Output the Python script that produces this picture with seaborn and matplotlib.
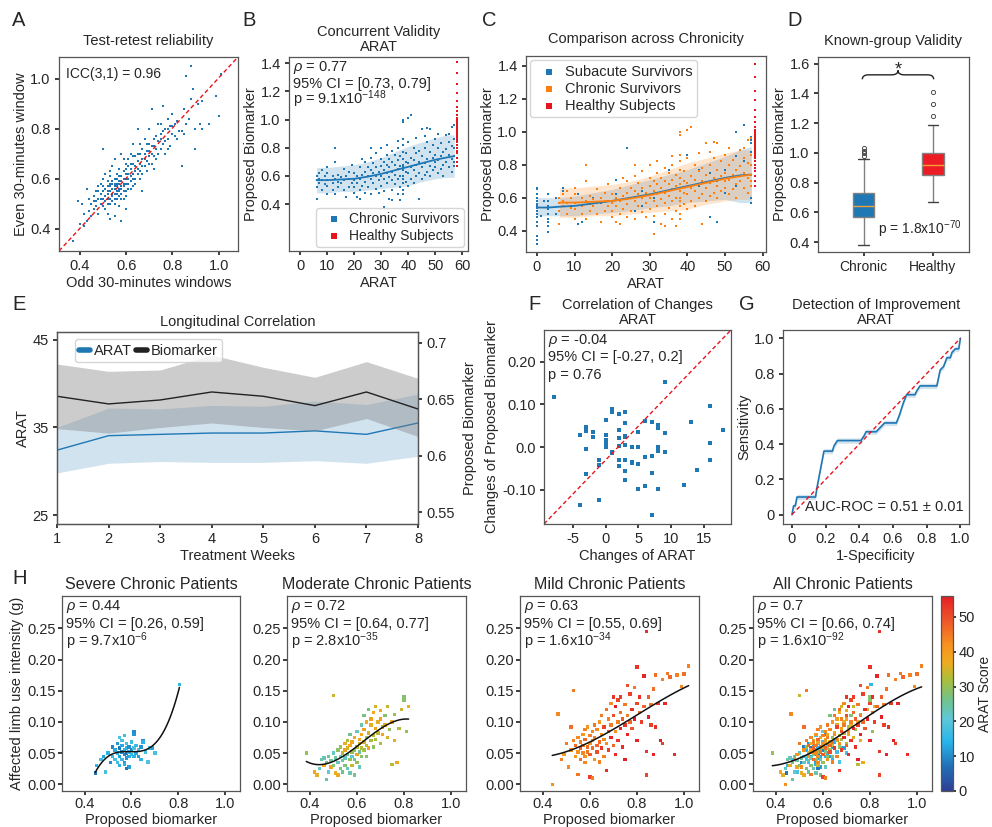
import matplotlib
matplotlib.use("Agg")
import matplotlib.pyplot as plt
import numpy as np
import pandas as pd
import seaborn as sns
from matplotlib.cm import ScalarMappable
from matplotlib.colors import LinearSegmentedColormap, Normalize
from matplotlib.lines import Line2D
from matplotlib.patches import PathPatch
from matplotlib.path import Path

sns.set_theme(style="ticks")
plt.rcParams["font.family"] = ["Liberation Sans", "DejaVu Sans"]
plt.rcParams.update({
    "axes.unicode_minus": False,
    "mathtext.fontset": "custom",
    "mathtext.rm": "Liberation Sans",
    "mathtext.it": "Liberation Sans:italic",
    "mathtext.bf": "Liberation Sans:bold",
    "font.size": 10.5, "axes.titlesize": 10.5, "axes.labelsize": 10.5,
    "xtick.labelsize": 10.5, "ytick.labelsize": 10.5,
    "axes.edgecolor": "#555555", "axes.linewidth": 0.9,
    "xtick.major.size": 3, "ytick.major.size": 3,
    "xtick.major.pad": 3, "ytick.major.pad": 3,
    "axes.labelpad": 2,
})
blue, orange, red, box_red = "#1f77b4", "#ff7f0e", "#e8141c", "#ed1c24"

# ---------------- data ----------------
# A: test-retest (odd window, even window)
retest_pts = [
    (0.37, 0.35), (0.39, 0.51), (0.40, 0.42), (0.41, 0.50), (0.42, 0.46), (0.43, 0.43), (0.43, 0.56), (0.44, 0.47),
    (0.45, 0.50), (0.45, 0.45), (0.46, 0.53), (0.46, 0.48), (0.47, 0.51), (0.47, 0.55), (0.48, 0.46), (0.48, 0.52),
    (0.48, 0.57), (0.49, 0.50), (0.49, 0.54), (0.49, 0.58), (0.50, 0.52), (0.50, 0.55), (0.50, 0.60), (0.50, 0.72),
    (0.51, 0.48), (0.51, 0.53), (0.51, 0.56), (0.51, 0.62), (0.52, 0.50), (0.52, 0.54), (0.52, 0.57), (0.52, 0.59),
    (0.52, 0.46), (0.53, 0.52), (0.53, 0.55), (0.53, 0.58), (0.53, 0.61), (0.53, 0.44), (0.54, 0.53), (0.54, 0.56),
    (0.54, 0.59), (0.54, 0.65), (0.55, 0.50), (0.55, 0.54), (0.55, 0.57), (0.55, 0.60), (0.55, 0.68), (0.56, 0.52),
    (0.56, 0.55), (0.56, 0.58), (0.56, 0.62), (0.57, 0.49), (0.57, 0.56), (0.57, 0.59), (0.57, 0.64), (0.58, 0.54),
    (0.58, 0.57), (0.58, 0.61), (0.58, 0.70), (0.59, 0.52), (0.59, 0.58), (0.59, 0.63), (0.60, 0.55), (0.60, 0.60),
    (0.60, 0.66), (0.60, 0.48), (0.61, 0.58), (0.61, 0.62), (0.61, 0.68), (0.62, 0.56), (0.62, 0.64), (0.62, 0.70),
    (0.63, 0.60), (0.63, 0.66), (0.63, 0.74), (0.64, 0.58), (0.64, 0.63), (0.64, 0.69), (0.65, 0.62), (0.65, 0.67),
    (0.65, 0.80), (0.66, 0.60), (0.66, 0.70), (0.67, 0.65), (0.67, 0.72), (0.67, 0.55), (0.68, 0.68), (0.68, 0.76),
    (0.69, 0.63), (0.69, 0.71), (0.70, 0.66), (0.70, 0.74), (0.70, 0.80), (0.71, 0.70), (0.71, 0.88), (0.72, 0.64),
    (0.72, 0.73), (0.73, 0.77), (0.73, 0.68), (0.74, 0.82), (0.75, 0.72), (0.75, 0.78), (0.76, 0.74), (0.76, 0.89),
    (0.77, 0.70), (0.77, 0.80), (0.78, 0.76), (0.78, 0.84), (0.79, 0.73), (0.80, 0.81), (0.80, 0.86), (0.81, 0.77),
    (0.82, 0.83), (0.83, 0.79), (0.84, 0.65), (0.85, 0.78), (0.85, 0.88), (0.86, 1.01), (0.87, 0.84), (0.88, 1.05),
    (0.88, 0.92), (0.89, 0.96), (0.90, 0.80), (0.91, 0.90), (0.92, 0.82), (0.93, 0.80), (0.93, 0.91), (0.96, 0.82),
    (0.99, 0.93), (1.00, 0.85), (1.01, 1.02), (0.90, 0.72), (0.84, 0.79), (0.58, 0.43), (0.55, 0.45),
    (0.50, 0.57), (0.51, 0.51), (0.52, 0.55), (0.53, 0.57), (0.53, 0.50), (0.54, 0.58), (0.54, 0.51), (0.55, 0.56),
    (0.55, 0.52), (0.56, 0.57), (0.56, 0.54), (0.56, 0.60), (0.57, 0.53), (0.57, 0.58), (0.57, 0.61), (0.58, 0.56),
    (0.58, 0.59), (0.58, 0.52), (0.59, 0.55), (0.59, 0.60), (0.59, 0.57), (0.60, 0.58), (0.60, 0.62), (0.60, 0.53),
    (0.61, 0.60), (0.61, 0.56), (0.61, 0.65), (0.62, 0.61), (0.62, 0.59), (0.62, 0.66), (0.63, 0.62), (0.63, 0.57),
    (0.64, 0.65), (0.64, 0.60), (0.65, 0.64), (0.65, 0.70), (0.66, 0.66), (0.66, 0.63), (0.67, 0.68), (0.67, 0.62),
    (0.68, 0.70), (0.68, 0.65), (0.69, 0.74), (0.69, 0.67), (0.70, 0.71), (0.70, 0.69), (0.71, 0.73), (0.71, 0.66),
    (0.72, 0.76), (0.72, 0.69), (0.73, 0.72), (0.74, 0.75), (0.74, 0.70), (0.75, 0.76), (0.76, 0.79), (0.77, 0.75),
    (0.78, 0.80), (0.79, 0.81), (0.80, 0.78), (0.81, 0.82), (0.48, 0.55), (0.47, 0.49), (0.46, 0.51), (0.49, 0.52),
    (0.52, 0.52), (0.54, 0.54), (0.55, 0.58), (0.57, 0.55), (0.50, 0.49), (0.44, 0.52), (0.42, 0.41), (0.59, 0.68),
    (0.63, 0.69), (0.66, 0.74), (0.75, 0.82), (0.78, 0.72), (0.82, 0.76), (0.86, 0.82), (0.60, 0.64), (0.53, 0.63),
]

# B/C: biomarker per ARAT score
chronic_by_arat = {
    6: [0.44, 0.57, 0.60, 0.52], 7: [0.58, 0.62, 0.55], 8: [0.50, 0.57, 0.64], 9: [0.54, 0.60],
    10: [0.47, 0.57, 0.62, 0.66, 0.53], 12: [0.55, 0.60, 0.50], 13: [0.80, 0.70, 0.58, 0.47],
    14: [0.56, 0.61, 0.52], 15: [0.55, 0.59], 16: [0.65, 0.50, 0.57], 17: [0.60, 0.45],
    18: [0.52, 0.58, 0.63], 19: [0.55, 0.68], 20: [0.48, 0.57, 0.62, 0.52], 21: [0.60, 0.55, 0.45],
    22: [0.50, 0.58, 0.66, 0.44], 23: [0.53, 0.61, 0.72], 24: [0.48, 0.56, 0.63, 0.70],
    25: [0.52, 0.60, 0.66], 26: [0.47, 0.58, 0.73, 0.80, 0.64], 27: [0.55, 0.62, 0.69],
    28: [0.51, 0.60, 0.76, 0.66], 29: [0.57, 0.63, 0.48], 30: [0.53, 0.60, 0.67, 0.80, 0.72],
    31: [0.49, 0.58, 0.64, 0.70, 0.38], 32: [0.55, 0.62, 0.68, 0.75, 0.82], 33: [0.44, 0.59, 0.66, 0.72],
    34: [0.50, 0.57, 0.63, 0.70, 0.78, 0.43], 35: [0.54, 0.61, 0.68, 0.75],
    36: [0.47, 0.58, 0.65, 0.71, 0.80, 0.85], 37: [0.52, 0.60, 0.67, 0.74, 0.43],
    38: [0.47, 0.50, 0.55, 0.60, 0.64, 0.68, 0.72, 0.77, 0.82, 0.86, 0.98, 1.00, 0.58, 0.66],
    39: [0.56, 0.63, 0.70, 0.76], 40: [0.53, 0.62, 0.69, 0.84, 1.01], 41: [0.58, 0.66, 0.73, 1.03],
    42: [0.55, 0.64, 0.71, 0.80], 43: [0.60, 0.68, 0.76, 0.87], 44: [0.44, 0.62, 0.70, 0.78],
    45: [0.58, 0.66, 0.74, 0.93], 46: [0.61, 0.69, 0.80, 0.88], 47: [0.63, 0.72, 0.84, 0.94],
    48: [0.60, 0.67, 0.77, 0.93], 49: [0.64, 0.73, 0.82], 50: [0.66, 0.75, 0.86, 0.70],
    51: [0.62, 0.71, 0.80, 0.90], 52: [0.65, 0.74, 0.83], 53: [0.68, 0.77, 0.60],
    54: [0.70, 0.79, 0.89], 55: [0.66, 0.75, 0.84, 0.90], 56: [0.63, 0.72, 0.81, 0.95],
    57: [0.67, 0.74, 0.80, 0.86, 0.96, 0.70],
}
subacute_by_arat = {
    0: [0.32, 0.34, 0.37, 0.43, 0.45, 0.48, 0.50, 0.52, 0.54, 0.55, 0.56, 0.58, 0.60, 0.62, 0.65, 0.66],
    1: [0.49], 2: [0.58], 3: [0.39, 0.43, 0.45, 0.47, 0.50, 0.53, 0.55, 0.58, 0.62], 5: [0.50, 0.60],
    7: [0.66, 0.64], 9: [0.55], 11: [0.44, 0.62], 12: [0.45], 15: [0.60], 17: [0.57], 19: [0.58],
    21: [0.71, 0.62], 24: [0.90, 0.63], 26: [0.52], 28: [0.55, 0.64], 31: [0.45, 0.60], 33: [0.66],
    35: [0.68, 0.77], 40: [0.86, 0.62], 43: [0.67, 0.77], 46: [0.48, 0.61, 0.75], 48: [0.45, 0.70],
    50: [0.77, 0.63], 53: [1.00, 0.85, 0.67], 55: [1.04, 0.82],
    57: [0.57, 0.60, 0.80, 0.88, 0.93, 0.95, 0.97],
}
healthy_arat = 58
healthy_bio = [0.67, 0.70, 0.73, 0.76, 0.78, 0.80, 0.82, 0.84, 0.85, 0.85, 0.86, 0.87, 0.88, 0.88, 0.89,
               0.90, 0.90, 0.91, 0.92, 0.92, 0.93, 0.94, 0.95, 0.96, 0.97, 0.98, 0.99, 1.00, 1.01, 1.03,
               1.06, 1.09, 1.13, 1.19, 1.25, 1.33, 1.41]

# smoothed trends with +/- 1 SD bands
chronic_fit_x = [6, 10, 15, 20, 25, 30, 35, 40, 45, 50, 54, 57]
chronic_fit_mean = [0.57, 0.57, 0.575, 0.58, 0.595, 0.615, 0.64, 0.665, 0.69, 0.715, 0.73, 0.74]
chronic_fit_low = [0.48, 0.48, 0.49, 0.49, 0.50, 0.51, 0.52, 0.53, 0.56, 0.58, 0.59, 0.59]
chronic_fit_high = [0.66, 0.66, 0.67, 0.68, 0.70, 0.73, 0.77, 0.81, 0.84, 0.87, 0.89, 0.89]
subacute_fit_x = [0, 3, 6, 10, 15, 20, 25, 30, 35, 40, 45, 50, 54, 57]
subacute_fit_mean = [0.54, 0.54, 0.545, 0.55, 0.565, 0.58, 0.60, 0.62, 0.645, 0.67, 0.695, 0.72, 0.735, 0.74]
subacute_fit_low = [0.49, 0.49, 0.49, 0.49, 0.50, 0.51, 0.52, 0.54, 0.55, 0.57, 0.58, 0.59, 0.57, 0.57]
subacute_fit_high = [0.60, 0.60, 0.60, 0.61, 0.63, 0.65, 0.68, 0.71, 0.74, 0.77, 0.81, 0.85, 0.89, 0.91]

# E: longitudinal means and bands
weeks = [1, 2, 3, 4, 5, 6, 7, 8]
arat_mean = [32.4, 34.05, 34.2, 34.35, 34.35, 34.6, 34.2, 35.5]
arat_low = [29.8, 30.9, 31.1, 31.0, 31.0, 31.2, 30.9, 31.7]
arat_high = [35.0, 37.2, 37.1, 37.5, 37.4, 38.0, 37.6, 38.8]
bio_mean = [0.6527, 0.6459, 0.6494, 0.6565, 0.6527, 0.6444, 0.6565, 0.6414]
bio_low = [0.624, 0.620, 0.625, 0.629, 0.625, 0.622, 0.633, 0.617]
bio_high = [0.6813, 0.6748, 0.6760, 0.6893, 0.6784, 0.6695, 0.6834, 0.6686]

# F: changes (ARAT change, biomarker change)
change_pts = [
    (-8, 0.118), (-4, 0.029), (-4, -0.135), (-3, 0.047), (-3, 0.037), (-3, -0.005), (-3, -0.062), (-2, 0.036),
    (-2, 0.024), (-1, -0.030), (-1, -0.042), (-1, -0.123), (0, 0.064), (0, 0.029), (0, 0.016), (0, 0.010),
    (0, 0.003), (0, 0.000), (1, 0.090), (1, 0.083), (1, -0.012), (1, -0.015), (2, 0.077), (2, 0.040),
    (2, 0.022), (2, 0.002), (2, -0.030), (2, -0.045), (3, 0.083), (3, 0.056), (3, 0.027), (3, 0.024),
    (3, 0.005), (3, -0.030), (3, -0.057), (3, -0.078), (4, 0.000), (4, -0.034), (4, -0.037), (5, 0.036),
    (5, 0.001), (5, -0.040), (5, -0.097), (6, 0.062), (6, -0.024), (6, -0.092), (7, 0.058), (7, -0.020),
    (7, -0.060), (7, -0.158), (8, 0.052), (8, 0.045), (8, 0.000), (8, -0.009), (8, -0.098), (9, 0.152),
    (9, 0.032), (9, -0.012), (12, -0.089), (13, 0.059), (14, -0.054), (16, 0.097), (16, 0.010),
    (16, -0.030), (18, 0.039),
]

# G: ROC curve
roc_fpr = [0, 0.01, 0.02, 0.03, 0.14, 0.15, 0.16, 0.17, 0.18, 0.19, 0.24, 0.25, 0.27, 0.41, 0.43, 0.44,
           0.50, 0.52, 0.55, 0.62, 0.64, 0.66, 0.68, 0.73, 0.74, 0.76, 0.86, 0.88, 0.90, 0.92, 0.94, 0.95,
           0.97, 0.99, 1.0]
roc_tpr = [0, 0.05, 0.05, 0.10, 0.10, 0.16, 0.21, 0.26, 0.31, 0.36, 0.36, 0.39, 0.42, 0.42, 0.45, 0.47,
           0.47, 0.49, 0.52, 0.52, 0.57, 0.63, 0.68, 0.68, 0.70, 0.73, 0.73, 0.82, 0.84, 0.89, 0.89, 0.92,
           0.94, 0.94, 1.0]
roc_sd = 0.015

# H: (biomarker, limb use intensity, ARAT)
severe_pts = [
    (0.445, 0.018, 8), (0.45, 0.030, 15), (0.47, 0.040, 17), (0.48, 0.045, 12), (0.49, 0.020, 18), (0.50, 0.050, 14),
    (0.51, 0.035, 10), (0.52, 0.060, 9), (0.52, 0.045, 16), (0.53, 0.055, 13), (0.53, 0.040, 18), (0.54, 0.065, 11),
    (0.54, 0.050, 15), (0.54, 0.035, 17), (0.55, 0.058, 8), (0.55, 0.045, 12), (0.55, 0.075, 18), (0.55, 0.030, 14),
    (0.56, 0.052, 10), (0.56, 0.040, 16), (0.56, 0.062, 13), (0.56, 0.070, 19), (0.57, 0.048, 9), (0.57, 0.055, 15),
    (0.57, 0.035, 12), (0.57, 0.078, 17), (0.58, 0.042, 11), (0.58, 0.058, 14), (0.58, 0.065, 18), (0.58, 0.050, 7),
    (0.59, 0.045, 13), (0.59, 0.052, 16), (0.59, 0.060, 10), (0.59, 0.028, 12), (0.60, 0.048, 15), (0.60, 0.055, 9),
    (0.60, 0.068, 17), (0.61, 0.080, 11), (0.61, 0.045, 14), (0.61, 0.058, 18), (0.61, 0.085, 10), (0.62, 0.050, 13),
    (0.62, 0.062, 16), (0.63, 0.045, 12), (0.63, 0.055, 19), (0.64, 0.040, 15), (0.64, 0.060, 11), (0.65, 0.070, 9),
    (0.65, 0.068, 14), (0.66, 0.052, 17), (0.68, 0.058, 16), (0.69, 0.058, 12), (0.70, 0.050, 18), (0.67, 0.036, 19),
    (0.58, 0.025, 8), (0.57, 0.032, 14), (0.805, 0.160, 15),
]
moderate_pts = [
    (0.385, 0.050, 30), (0.42, 0.020, 38), (0.43, 0.015, 36), (0.44, 0.025, 22), (0.45, 0.040, 24), (0.46, 0.030, 37),
    (0.46, 0.042, 23), (0.47, 0.008, 25), (0.47, 0.035, 27), (0.48, 0.020, 21), (0.48, 0.045, 26), (0.49, 0.028, 38),
    (0.49, 0.038, 24), (0.50, 0.142, 34), (0.50, 0.050, 22), (0.50, 0.030, 28), (0.51, 0.018, 36), (0.51, 0.042, 25),
    (0.52, 0.035, 23), (0.52, 0.055, 29), (0.52, 0.015, 37), (0.53, 0.045, 21), (0.53, 0.025, 27), (0.53, 0.060, 31),
    (0.54, 0.038, 24), (0.54, 0.050, 33), (0.54, 0.020, 26), (0.55, 0.042, 22), (0.55, 0.065, 36), (0.55, 0.030, 28),
    (0.55, 0.055, 39), (0.56, 0.048, 25), (0.56, 0.070, 32), (0.56, 0.025, 23), (0.56, 0.058, 35), (0.57, 0.040, 30),
    (0.57, 0.062, 37), (0.57, 0.018, 24), (0.57, 0.080, 26), (0.58, 0.052, 31), (0.58, 0.045, 21), (0.58, 0.068, 38),
    (0.58, 0.030, 34), (0.59, 0.055, 28), (0.59, 0.075, 36), (0.59, 0.040, 25), (0.59, 0.015, 27), (0.60, 0.060, 32),
    (0.60, 0.048, 39), (0.60, 0.085, 22), (0.60, 0.035, 30), (0.61, 0.065, 35), (0.61, 0.052, 26), (0.61, 0.072, 37),
    (0.61, 0.028, 23), (0.62, 0.058, 33), (0.62, 0.080, 38), (0.62, 0.045, 29), (0.62, 0.095, 24), (0.63, 0.068, 36),
    (0.63, 0.055, 31), (0.63, 0.088, 39), (0.63, 0.110, 27), (0.64, 0.062, 34), (0.64, 0.075, 30), (0.64, 0.100, 37),
    (0.64, 0.045, 28), (0.65, 0.082, 35), (0.65, 0.120, 26), (0.65, 0.058, 38), (0.66, 0.070, 32), (0.66, 0.095, 36),
    (0.66, 0.105, 39), (0.67, 0.078, 33), (0.67, 0.115, 37), (0.67, 0.060, 29), (0.68, 0.090, 38), (0.68, 0.125, 35),
    (0.68, 0.072, 31), (0.69, 0.100, 36), (0.69, 0.082, 34), (0.70, 0.105, 39), (0.70, 0.065, 32), (0.70, 0.118, 37),
    (0.71, 0.092, 33), (0.71, 0.080, 38), (0.72, 0.110, 28), (0.72, 0.095, 36), (0.73, 0.075, 35), (0.73, 0.125, 34),
    (0.74, 0.088, 30), (0.75, 0.032, 33), (0.75, 0.100, 37), (0.76, 0.070, 36), (0.76, 0.112, 31), (0.77, 0.035, 38),
    (0.78, 0.090, 32), (0.79, 0.120, 34), (0.80, 0.135, 29), (0.81, 0.085, 30), (0.82, 0.125, 37), (0.80, 0.140, 28),
]
mild_pts = [
    (0.44, 0.000, 42), (0.465, 0.113, 43), (0.48, 0.040, 44), (0.49, 0.048, 41), (0.50, 0.065, 45), (0.51, 0.028, 43),
    (0.52, 0.092, 46), (0.52, 0.055, 42), (0.53, 0.070, 44), (0.53, 0.150, 45), (0.54, 0.045, 41), (0.54, 0.062, 47),
    (0.55, 0.075, 43), (0.55, 0.016, 45), (0.55, 0.052, 42), (0.56, 0.058, 48), (0.56, 0.068, 44), (0.56, 0.040, 46),
    (0.57, 0.080, 41), (0.57, 0.050, 43), (0.57, 0.062, 45), (0.58, 0.088, 44), (0.58, 0.045, 42), (0.58, 0.072, 47),
    (0.58, 0.035, 43), (0.59, 0.060, 46), (0.59, 0.092, 41), (0.59, 0.052, 45), (0.60, 0.078, 44), (0.60, 0.012, 52),
    (0.60, 0.065, 42), (0.60, 0.048, 48), (0.61, 0.085, 43), (0.61, 0.010, 44), (0.61, 0.058, 46), (0.61, 0.070, 41),
    (0.62, 0.095, 45), (0.62, 0.040, 42), (0.62, 0.075, 44), (0.63, 0.062, 47), (0.63, 0.088, 43), (0.63, 0.052, 50),
    (0.64, 0.100, 41), (0.64, 0.068, 46), (0.64, 0.036, 44), (0.65, 0.080, 42), (0.65, 0.058, 53), (0.65, 0.110, 45),
    (0.66, 0.072, 43), (0.66, 0.092, 51), (0.66, 0.045, 44), (0.67, 0.120, 46), (0.67, 0.022, 54), (0.67, 0.065, 42),
    (0.68, 0.085, 49), (0.68, 0.105, 44), (0.68, 0.055, 52), (0.69, 0.130, 43), (0.69, 0.075, 55), (0.69, 0.095, 45),
    (0.70, 0.140, 53), (0.70, 0.062, 47), (0.70, 0.110, 50), (0.71, 0.085, 42), (0.71, 0.125, 56), (0.71, 0.048, 54),
    (0.72, 0.100, 44), (0.72, 0.135, 51), (0.72, 0.070, 53), (0.73, 0.115, 46), (0.73, 0.090, 55), (0.73, 0.140, 52),
    (0.74, 0.105, 48), (0.74, 0.060, 54), (0.75, 0.128, 45), (0.75, 0.095, 53), (0.75, 0.040, 56), (0.76, 0.158, 50),
    (0.76, 0.110, 44), (0.76, 0.080, 55), (0.77, 0.145, 52), (0.77, 0.100, 47), (0.78, 0.120, 54), (0.78, 0.090, 49),
    (0.79, 0.155, 45), (0.79, 0.105, 56), (0.80, 0.188, 53), (0.80, 0.130, 51), (0.80, 0.070, 55), (0.81, 0.115, 46),
    (0.81, 0.140, 54), (0.82, 0.100, 52), (0.83, 0.125, 47), (0.83, 0.174, 55), (0.84, 0.053, 53), (0.84, 0.015, 51),
    (0.84, 0.245, 54), (0.85, 0.108, 56), (0.85, 0.140, 48), (0.86, 0.095, 52), (0.86, 0.128, 45), (0.87, 0.048, 55),
    (0.87, 0.153, 46), (0.88, 0.092, 54), (0.89, 0.130, 53), (0.90, 0.070, 56), (0.91, 0.065, 52), (0.91, 0.168, 44),
    (0.92, 0.130, 55), (0.93, 0.178, 45), (0.94, 0.172, 47), (0.96, 0.048, 54), (0.97, 0.175, 44), (0.99, 0.157, 43),
    (1.00, 0.177, 46), (1.02, 0.190, 44), (0.88, 0.175, 46),
]
h_titles = ["Severe Chronic Patients", "Moderate Chronic Patients", "Mild Chronic Patients", "All Chronic Patients"]
h_stats = [("0.44", "[0.26, 0.59]", "9.7x10$^{-6}$"), ("0.72", "[0.64, 0.77]", "2.8x10$^{-35}$"),
           ("0.63", "[0.55, 0.69]", "1.6x10$^{-34}$"), ("0.7", "[0.66, 0.74]", "1.6x10$^{-92}$")]

# ---------------- tables ----------------
retest = pd.DataFrame(retest_pts, columns=["odd", "even"])
chronic = pd.DataFrame([(k, v) for k, vals in chronic_by_arat.items() for v in vals], columns=["arat", "bio"])
subacute = pd.DataFrame([(k, v) for k, vals in subacute_by_arat.items() for v in vals], columns=["arat", "bio"])
healthy = pd.DataFrame({"arat": healthy_arat, "bio": healthy_bio})
changes = pd.DataFrame(change_pts, columns=["d_arat", "d_bio"])
h_sets = [pd.DataFrame(p, columns=["bio", "use", "arat"]) for p in (severe_pts, moderate_pts, mild_pts)]
h_sets.append(pd.concat(h_sets, ignore_index=True))

arat_cmap = LinearSegmentedColormap.from_list("arat", [
    (0.0, "#2e3f95"), (0.13, "#2371b8"), (0.25, "#27b4ea"), (0.37, "#5ec8d8"), (0.47, "#72c28a"),
    (0.57, "#a9bf3a"), (0.66, "#f1ab1e"), (0.75, "#f6921e"), (0.87, "#f0582a"), (1.0, "#e41e26")])
arat_norm = Normalize(0, 56)

W, H = 992, 827
fig = plt.figure(figsize=(W / 100, H / 100), dpi=100)


def add_ax(l, t, r, b):
    return fig.add_axes([l / W, 1 - b / H, (r - l) / W, (b - t) / H])


def stats_text(ax, rho, ci, p, size=10.5, step=11.5):
    lines = [f"$\\rho$ = {rho}", f"95% CI = {ci}", f"p = {p}"]
    for k, line in enumerate(lines):
        ax.annotate(line, xy=(0.02, 1.0), xycoords="axes fraction", xytext=(0, -0.95 * size - k * step),
                    textcoords="offset points", va="baseline", ha="left", fontsize=size)


def dots(ax, df, x, y, color, label=None, s=4):
    sns.scatterplot(data=df, x=x, y=y, ax=ax, color=color, s=s, marker="s", linewidth=0, label=label)


# A
ax = add_ax(59, 57, 238, 251)
dots(ax, retest, "odd", "even", blue)
ax.plot([0, 1], [0, 1], transform=ax.transAxes, color=red, ls=(0, (3, 2)), lw=1)
ax.set(xlim=(0.31, 1.084), ylim=(0.31, 1.087), xticks=[0.4, 0.6, 0.8, 1.0], yticks=[0.4, 0.6, 0.8, 1.0],
       xlabel="Odd 30-minutes windows", ylabel="Even 30-minutes window")
ax.set_title("Test-retest reliability", pad=9)
ax.text(0.04, 0.95, "ICC(3,1) = 0.96", transform=ax.transAxes, va="top", fontsize=10)

# B
ax = add_ax(289, 57, 468, 251)
ax.fill_between(chronic_fit_x, chronic_fit_low, chronic_fit_high, color=blue, alpha=0.2, lw=0)
dots(ax, chronic, "arat", "bio", blue, "Chronic Survivors")
dots(ax, healthy, "arat", "bio", red, "Healthy Subjects")
sns.lineplot(x=chronic_fit_x, y=chronic_fit_mean, ax=ax, color=blue, lw=1.3, zorder=4)
ax.set(xlim=(-4.2, 62.1), ylim=(0.068, 1.443), xticks=range(0, 61, 10), yticks=[0.4, 0.6, 0.8, 1.0, 1.2, 1.4],
       xlabel="ARAT", ylabel="Proposed Biomarker")
ax.set_title("Concurrent Validity\nARAT", pad=4, linespacing=1.15)
stats_text(ax, "0.77", "[0.73, 0.79]", "9.1x10$^{-148}$", step=12)
ax.legend(loc="lower right", fontsize=10, handletextpad=0.1, borderpad=0.3, labelspacing=0.2,
          markerscale=2, edgecolor="#cccccc", borderaxespad=0.3)

# C
ax = add_ax(526, 56, 766, 252)
ax.fill_between(subacute_fit_x, subacute_fit_low, subacute_fit_high, color=blue, alpha=0.2, lw=0)
ax.fill_between(chronic_fit_x, chronic_fit_low, chronic_fit_high, color=orange, alpha=0.2, lw=0)
dots(ax, subacute, "arat", "bio", blue, "Subacute Survivors")
dots(ax, chronic, "arat", "bio", orange, "Chronic Survivors")
dots(ax, healthy, "arat", "bio", red, "Healthy Subjects")
sns.lineplot(x=subacute_fit_x, y=subacute_fit_mean, ax=ax, color=blue, lw=1.3, zorder=4)
sns.lineplot(x=chronic_fit_x, y=chronic_fit_mean, ax=ax, color=orange, lw=1.3, zorder=4)
ax.set(xlim=(-2.9, 60.9), ylim=(0.27, 1.46), xticks=range(0, 61, 10), yticks=[0.4, 0.6, 0.8, 1.0, 1.2, 1.4],
       xlabel="ARAT", ylabel="Proposed Biomarker")
ax.set_title("Comparison across Chronicity", pad=9)
ax.legend(loc="upper left", fontsize=10.5, handletextpad=0.1, borderpad=0.3, labelspacing=0.2,
          markerscale=2, edgecolor="#cccccc", borderaxespad=0.3)

# D
ax = add_ax(818, 57, 969, 252)
groups = pd.concat([chronic.assign(group="Chronic"), healthy.assign(group="Healthy")], ignore_index=True)
sns.boxplot(data=groups, x="group", y="bio", hue="group", order=["Chronic", "Healthy"],
            palette=[blue, box_red], saturation=1, width=0.31, linewidth=1, legend=False, ax=ax,
            boxprops=dict(edgecolor="#808080"), whiskerprops=dict(color="#808080"),
            capprops=dict(color="#404040"), medianprops=dict(color="#f4a03a", lw=1),
            flierprops=dict(marker="o", markersize=3, markerfacecolor="none", markeredgecolor="#333333",
                            markeredgewidth=0.6))
ax.set(xlim=(-0.66, 1.52), ylim=(0.333, 1.645), yticks=[0.4, 0.6, 0.8, 1.0, 1.2, 1.4, 1.6],
       xlabel="", ylabel="Proposed Biomarker")
ax.tick_params(axis="x", labelsize=10)
ax.set_title("Known-group Validity", pad=9)
x0, x1, y0, hgt, d = -0.02, 1.01, 1.495, 0.06, 0.09
xm = (x0 + x1) / 2
verts = [(x0, y0), (x0, y0 + hgt / 2), (x0 + d, y0 + hgt / 2), (xm - d, y0 + hgt / 2),
         (xm, y0 + hgt / 2), (xm, y0 + hgt), (xm, y0 + hgt / 2), (xm + d, y0 + hgt / 2),
         (x1 - d, y0 + hgt / 2), (x1, y0 + hgt / 2), (x1, y0)]
codes = [Path.MOVETO, Path.CURVE3, Path.CURVE3, Path.LINETO, Path.CURVE3, Path.CURVE3, Path.CURVE3,
         Path.CURVE3, Path.LINETO, Path.CURVE3, Path.CURVE3]
ax.add_patch(PathPatch(Path(verts, codes), fill=False, lw=1, color="#222222"))
ax.text(xm, y0 + hgt + 0.005, "*", ha="center", va="center", fontsize=13)
ax.text(0.95, 0.06, "p = 1.8x10$^{-70}$", transform=ax.transAxes, ha="right", va="bottom", fontsize=10)

# E
ax = add_ax(57, 332, 418, 524)
ax.fill_between(weeks, arat_low, arat_high, color=blue, alpha=0.2, lw=0)
sns.lineplot(x=weeks, y=arat_mean, ax=ax, color=blue, lw=1)
ax.set(xlim=(1, 8), ylim=(23.98, 45.87), xticks=weeks, yticks=[25, 35, 45],
       xlabel="Treatment Weeks", ylabel="ARAT")
ax.set_title("Longitudinal Correlation", pad=4)
tw = ax.twinx()
tw.fill_between(weeks, bio_low, bio_high, color="#808080", alpha=0.4, lw=0)
sns.lineplot(x=weeks, y=bio_mean, ax=tw, color="#222222", lw=1)
tw.set_ylim(0.5394, 0.7097)
tw.set_yticks([0.55, 0.6, 0.65, 0.7], ["0.55", "0.6", "0.65", "0.7"])
tw.set_ylabel("Proposed Biomarker", labelpad=6)
tw.legend(handles=[Line2D([], [], color=blue, lw=4), Line2D([], [], color="#222222", lw=4)],
          labels=["ARAT", "Biomarker"], loc="upper left", ncol=2, handlelength=0.7, handletextpad=0.3,
          columnspacing=0.3, borderpad=0.3, fontsize=10.5, edgecolor="#cccccc", bbox_to_anchor=(0.03, 1.0))

# F
ax = add_ax(544, 330, 731, 524)
dots(ax, changes, "d_arat", "d_bio", blue, s=5)
ax.plot([0, 1], [0, 1], transform=ax.transAxes, color=red, ls=(0, (3, 2)), lw=1)
ax.set(xlim=(-9.5, 19.2), ylim=(-0.18, 0.274), xticks=[-5, 0, 5, 10, 15],
       xlabel="Changes of ARAT", ylabel="Changes of Proposed Biomarker")
ax.set_yticks([0.2, 0.1, 0.0, -0.1], ["0.20", "0.10", "0.0", "-0.10"])
ax.set_title("Correlation of Changes\nARAT", pad=4, linespacing=1.15)
stats_text(ax, "-0.04", "[-0.27, 0.2]", "0.76", step=12.5)

# G
ax = add_ax(783, 330, 969, 524)
lo = [t - roc_sd for t in roc_tpr]
hi = [t + roc_sd for t in roc_tpr]
ax.fill_between(roc_fpr, lo, hi, color=blue, alpha=0.2, lw=0)
sns.lineplot(x=roc_fpr, y=roc_tpr, ax=ax, color=blue, lw=1.2, sort=False, estimator=None)
ax.plot([0, 1], [0, 1], color=red, ls=(0, (3, 2)), lw=1)
ticks = [0, 0.2, 0.4, 0.6, 0.8, 1.0]
tick_lbl = ["0", "0.2", "0.4", "0.6", "0.8", "1.0"]
ax.set(xlim=(-0.053, 1.051), ylim=(-0.053, 1.047), xlabel="1-Specificity", ylabel="Sensitivity")
ax.set_xticks(ticks, tick_lbl)
ax.set_yticks(ticks, tick_lbl)
ax.set_title("Detection of Improvement\nARAT", pad=4, linespacing=1.15)
ax.text(0.97, 0.05, "AUC-ROC = 0.51 ± 0.01", transform=ax.transAxes, ha="right", va="bottom", fontsize=10.5)

# H
h_boxes = [(62, 240), (287, 466), (520, 699), (753, 932)]
for i, (df, (l, r)) in enumerate(zip(h_sets, h_boxes)):
    ax = add_ax(l, 596, r, 791)
    sns.scatterplot(data=df, x="bio", y="use", hue="arat", palette=arat_cmap, hue_norm=arat_norm,
                    s=6, marker="s", linewidth=0, legend=False, ax=ax)
    sns.regplot(data=df, x="bio", y="use", order=3, scatter=False, ci=None, ax=ax,
                line_kws=dict(color="#111111", lw=1.1))
    ax.set(xlim=(0.303, 1.064), ylim=(-0.0107, 0.302), xticks=[0.4, 0.6, 0.8, 1.0],
           yticks=[0, 0.05, 0.10, 0.15, 0.20, 0.25])
    ax.set_xlabel("Proposed biomarker", fontsize=10.5, labelpad=1)
    ax.set_ylabel("Affected limb use intensity (g)" if i == 0 else "", fontsize=10.5, labelpad=2)
    ax.yaxis.set_major_formatter("{x:.2f}")
    ax.tick_params(labelsize=10.5, pad=1.5, length=3)
    ax.set_title(h_titles[i], fontsize=11.5, pad=5)
    stats_text(ax, *h_stats[i], size=10.5, step=13)

cax = add_ax(941, 596, 953, 791)
cb = fig.colorbar(ScalarMappable(norm=arat_norm, cmap=arat_cmap), cax=cax, ticks=range(0, 51, 10))
cb.ax.tick_params(labelsize=10.5, pad=1.5, length=2.5)
cb.set_label("ARAT Score", fontsize=10, labelpad=2)
cb.outline.set_edgecolor("#555555")

for letter, x, y in [("A", 12, 11), ("B", 242, 11), ("C", 482, 11), ("D", 787, 11), ("E", 12, 295),
                     ("F", 528, 295), ("G", 739, 295), ("H", 12, 569)]:
    fig.text(x / W, 1 - y / H, letter, fontsize=14.5, va="top", ha="left")

fig.savefig("out.png", dpi=100)
